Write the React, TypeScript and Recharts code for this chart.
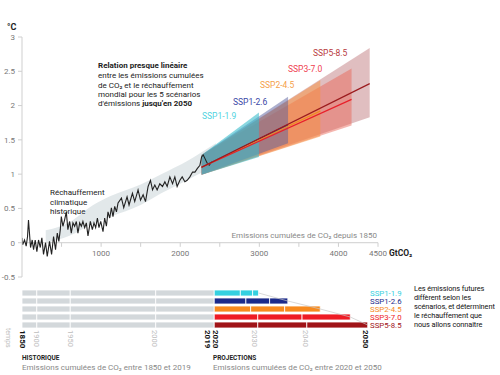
import React from "react";
import {
  Area,
  Bar,
  Cell,
  ComposedChart,
  Line,
  ReferenceLine,
  XAxis,
  YAxis,
} from "recharts";

const FONT = "Roboto, 'Noto Sans', sans-serif";

// Réchauffement historique : émissions cumulées (GtCO2) / température (°C)
const histCum = [
  0, 8, 32, 53, 70, 82, 108, 129, 146, 167, 188, 209, 231, 251, 272, 298, 319,
  348, 374, 399, 424, 446, 466, 484, 497, 517, 538, 560, 580, 602, 623, 644,
  665, 687, 707, 729, 750, 770, 792, 813, 834, 864, 889, 910, 931, 953, 973,
  995, 1024, 1045, 1067, 1087, 1109, 1130, 1150, 1172, 1194, 1214, 1257, 1286,
  1328, 1353, 1396, 1425, 1467, 1498, 1531, 1561, 1594, 1624, 1650, 1679, 1708,
  1742, 1776, 1806, 1835, 1869, 1903, 1932, 1961, 1996, 2025, 2059, 2088, 2122,
  2156, 2186, 2215, 2249, 2270, 2291, 2312, 2341, 2367, 2397,
];
const histTemp = [
  0.07, -0.03, 0.04, -0.05, 0.09, 0.33, -0.07, 0.04, -0.1, 0.04, -0.13, 0.04,
  -0.07, 0.07, -0.17, 0, -0.2, 0.02, -0.17, 0.09, -0.1, 0.14, 0.02, 0.19, 0.38,
  0.24, 0.33, 0.45, 0.19, 0.31, 0.14, 0.29, 0.24, 0.31, 0.14, 0.29, 0.24, 0.31,
  0.22, 0.29, 0.1, 0.31, 0.19, 0.29, 0.22, 0.36, 0.22, 0.31, 0.16, 0.36, 0.24,
  0.45, 0.36, 0.51, 0.38, 0.53, 0.45, 0.58, 0.65, 0.51, 0.67, 0.55, 0.72, 0.6,
  0.77, 0.62, 0.7, 0.6, 0.82, 0.91, 0.77, 0.84, 0.77, 0.86, 0.82, 0.89, 0.82,
  0.96, 0.86, 0.96, 0.82, 0.91, 0.96, 0.89, 0.91, 0.96, 1.03, 1.03, 1.08, 1.13,
  1.25, 1.28, 1.23, 1.16, 1.13, 1.18,
];

// bande d'incertitude historique
const bandCum = [300, 600, 900, 1120, 1500, 1760, 2100, 2270, 2450];
const bandLow = [0.0, 0.1, 0.28, 0.38, 0.55, 0.72, 0.92, 1.02, 1.1];
const bandHigh = [0.18, 0.3, 0.55, 0.68, 0.85, 1.0, 1.2, 1.32, 1.45];

// scénarios SSP jusqu'en 2050
const scenarios = ["SSP1-1.9", "SSP1-2.6", "SSP2-4.5", "SSP3-7.0", "SSP5-8.5"];
const fanStartCum = 2270;
const fanStartLow = 0.99;
const fanStartHigh = 1.28;
const midStart = 1.1;
const fanEndCum = [2995, 3363, 3771, 4166, 4395];
const fanEndLow = [1.25, 1.45, 1.55, 1.71, 1.83];
const fanEndHigh = [1.9, 2.13, 2.37, 2.54, 2.84];
const midEnd = [1.5, 1.72, 1.92, 2.09, 2.32];

const fanFill = ["#3bbdcc", "#5a5f9e", "#f7913c", "#e8604f", "#c27e82"];
const fanOpacity = [0.6, 0.5, 0.5, 0.45, 0.5];
const lineColor = ["#3cc8dc", "#2a3590", "#f08a1e", "#e8202a", "#9b1b1e"];
const labelColor = ["#4fd3e0", "#3a47a6", "#f5a04a", "#ef4050", "#b83a40"];
const barColor = ["#35d0e0", "#1b2a8a", "#f78a1e", "#ee1c25", "#a01418"];

// barres : émissions cumulées par période (GtCO2)
const hist1900 = 187;
const hist1950 = 423;
const hist2000 = 1080;
const hist2019 = 740;
const proj2030 = [330, 400, 460, 550, 550];
const proj2040 = [155, 300, 430, 560, 620];
const proj2050 = [75, 230, 450, 610, 770];

const yearTickCum = [0, 177, 607, 1669, 2351, 2452, 2945, 3580, 4336];
const yearTickLabel = ["1850", "1900", "1950", "2000", "2019", "2020", "2030", "2040", "2050"];
const yearTickBold = [true, false, false, false, true, true, false, false, true];

const tempTicks = [-0.5, 0, 0.5, 1, 1.5, 2, 2.5, 3];
const cumTicks = [500, 1000, 1500, 2000, 2500, 3000, 3500, 4000, 4500];
const cumLabelled = [1000, 2000, 3000, 4000, 4500];

const histData = histCum.map((x, i) => ({ x, t: histTemp[i] }));
const bandData = bandCum.map((x, i) => ({ x, r: [bandLow[i], bandHigh[i]] }));

const rows = scenarios.map((name, i) => ({
  name,
  h1: hist1900,
  h2: hist1950,
  h3: hist2000,
  h4: hist2019,
  p1: proj2030[i],
  p2: proj2040[i],
  p3: proj2050[i],
  end: hist1900 + hist1950 + hist2000 + hist2019 + proj2030[i] + proj2040[i] + proj2050[i],
}));

const GRAY = "#d3d8db";

function YearTick(props: any) {
  const { x, y, payload } = props;
  const i = yearTickCum.indexOf(payload.value);
  const bold = yearTickBold[i];
  return (
    <text
      transform={`translate(${x},${y + 1}) rotate(90)`}
      fontSize={bold ? 8 : 7.5}
      fontWeight={bold ? 700 : 400}
      fill={bold ? "#111" : "#bdbdbd"}
      fontFamily={FONT}
      dominantBaseline="central"
      textAnchor="start"
    >
      {yearTickLabel[i]}
    </text>
  );
}

function ScenarioTick(props: any) {
  const { x, y, payload } = props;
  const i = scenarios.indexOf(payload.value);
  return (
    <text
      x={x - 8}
      y={y}
      fontSize={7.8}
      fill={barColor[i]}
      fontFamily={FONT}
      dominantBaseline="central"
      textAnchor="start"
    >
      {payload.value}
    </text>
  );
}

function T(props: any) {
  const { children, ...rest } = props;
  return (
    <text fontFamily={FONT} fontSize={8} fill="#222" {...rest}>
      {children}
    </text>
  );
}

export default function App() {
  return (
    <div
      style={{
        position: "absolute",
        left: 0,
        top: 0,
        width: 500,
        height: 375,
        background: "#fff",
        fontFamily: FONT,
      }}
    >
      <div style={{ position: "absolute", left: 0, top: 0 }}>
        <ComposedChart width={500} height={290} margin={{ top: 37, right: 122, bottom: 8, left: 0 }}>
          <XAxis
            type="number"
            dataKey="x"
            domain={[0, 4500]}
            ticks={cumTicks}
            tick={false}
            tickLine={{ stroke: "#cfcfcf" }}
            tickSize={4}
            axisLine={false}
            height={5}
            allowDataOverflow
          />
          <YAxis
            type="number"
            domain={[-0.5, 3]}
            ticks={tempTicks}
            width={22}
            tick={{ fontSize: 8, fill: "#777", fontFamily: FONT }}
            tickSize={4}
            tickMargin={3}
            axisLine={{ stroke: "#cfcfcf" }}
            tickLine={{ stroke: "#cfcfcf" }}
            allowDataOverflow
          />
          <ReferenceLine y={0} stroke="#cfcfcf" />
          {cumTicks.map((v) => (
            <ReferenceLine
              key={v}
              segment={[
                { x: v, y: 0 },
                { x: v, y: -0.06 },
              ]}
              stroke="#cfcfcf"
              label={
                cumLabelled.includes(v)
                  ? { value: String(v), position: "bottom", offset: 3, fontSize: 8, fill: "#777", fontFamily: FONT }
                  : undefined
              }
            />
          ))}
          <Area
            data={bandData}
            dataKey="r"
            type="monotone"
            fill="#dfe5e8"
            fillOpacity={0.9}
            stroke="none"
            isAnimationActive={false}
          />
          <Line
            data={histData}
            dataKey="t"
            type="linear"
            stroke="#222"
            strokeWidth={1.1}
            dot={false}
            isAnimationActive={false}
          />
          {[4, 3, 2, 1, 0].map((i) => (
            <Area
              key={scenarios[i]}
              data={[
                { x: fanStartCum, r: [fanStartLow, fanStartHigh] },
                { x: fanEndCum[i], r: [fanEndLow[i], fanEndHigh[i]] },
              ]}
              dataKey="r"
              type="linear"
              fill={fanFill[i]}
              fillOpacity={fanOpacity[i]}
              stroke="none"
              isAnimationActive={false}
            />
          ))}
          {[0, 1, 2, 3, 4].map((i) => (
            <Line
              key={"m" + scenarios[i]}
              data={[
                { x: fanStartCum, t: midStart },
                { x: fanEndCum[i], t: midEnd[i] },
              ]}
              dataKey="t"
              type="linear"
              stroke={lineColor[i]}
              strokeWidth={1.2}
              dot={false}
              isAnimationActive={false}
            />
          ))}
        </ComposedChart>
      </div>

      <div style={{ position: "absolute", left: 0, top: 284 }}>
        <ComposedChart
          layout="vertical"
          width={500}
          height={80}
          data={rows}
          margin={{ top: 5, right: 82, bottom: 0, left: 22 }}
          barCategoryGap={0}
        >
          <XAxis
            type="number"
            domain={[0, 4500]}
            ticks={yearTickCum}
            interval={0}
            tick={(p: any) => <YearTick {...p} />}
            tickLine={false}
            axisLine={false}
            tickSize={0}
            tickMargin={0}
            height={35}
          />
          <YAxis
            type="category"
            dataKey="name"
            orientation="right"
            width={40}
            interval={0}
            axisLine={false}
            tickLine={false}
            tickSize={0}
            tickMargin={0}
            tick={(p: any) => <ScenarioTick {...p} />}
          />
          <Line dataKey="end" stroke="#c8c8c8" strokeWidth={0.7} dot={false} isAnimationActive={false} />
          {["h1", "h2", "h3", "h4"].map((k) => (
            <Bar key={k} dataKey={k} stackId="s" fill={GRAY} stroke="#fff" strokeWidth={0.8} barSize={6} isAnimationActive={false} />
          ))}
          {["p1", "p2", "p3"].map((k) => (
            <Bar key={k} dataKey={k} stackId="s" stroke="#fff" strokeWidth={0.8} barSize={6} isAnimationActive={false}>
              {rows.map((r, i) => (
                <Cell key={r.name} fill={barColor[i]} />
              ))}
            </Bar>
          ))}
        </ComposedChart>
      </div>

      <svg
        width={500}
        height={375}
        style={{ position: "absolute", left: 0, top: 0, pointerEvents: "none" }}
      >
        <T x={7} y={30} fontSize={9} fontWeight={700}>°C</T>
        <T x={98} y={68} fontWeight={700}>Relation presque linéaire</T>
        <T x={98} y={78}>entre les émissions cumulées</T>
        <T x={98} y={88}>de CO₂ et le réchauffement</T>
        <T x={98} y={97}>mondial pour les 5 scénarios</T>
        <T x={98} y={106}>
          d'émissions <tspan fontWeight={700}>jusqu'en 2050</tspan>
        </T>
        <T x={50} y={195}>Réchauffement</T>
        <T x={50} y={205}>climatique</T>
        <T x={50} y={214}>historique</T>
        {[
          [202, 119],
          [233, 105],
          [260, 88],
          [288, 72],
          [313, 56],
        ].map(([x, y], i) => (
          <T key={scenarios[i]} x={x} y={y} fontSize={8.5} fill={labelColor[i]}>
            {scenarios[i]}
          </T>
        ))}
        <T x={377} y={238} fill="#888" textAnchor="end">
          Emissions cumulées de CO₂ depuis 1850
        </T>
        <T x={389} y={256} fontSize={8.5} fontWeight={700}>GtCO₂</T>
        <T x={0} y={0} fill="#c0c0c0" fontSize={7} transform="translate(6,328) rotate(90)">temps</T>
        <T x={22} y={360} fontSize={6.5} fontWeight={700}>HISTORIQUE</T>
        <T x={22} y={370} fill="#888">Emissions cumulées de CO₂ entre 1850 et 2019</T>
        <T x={213} y={360} fontSize={6.5} fontWeight={700}>PROJECTIONS</T>
        <T x={213} y={370} fill="#888">Emissions cumulées de CO₂ entre 2020 et 2050</T>
        <g fontSize={7.4} letterSpacing={-0.1}>
          <T x={414} y={291} fill="#111" fontSize={7.4}>Les émissions futures</T>
          <T x={414} y={300} fill="#111" fontSize={7.4}>diffèrent selon les</T>
          <T x={414} y={309} fill="#111" fontSize={7.4}>scénarios, et déterminent</T>
          <T x={414} y={318} fill="#111" fontSize={7.4}>le réchauffement que</T>
          <T x={414} y={327} fill="#111" fontSize={7.4}>nous allons connaitre</T>
        </g>
      </svg>
    </div>
  );
}
